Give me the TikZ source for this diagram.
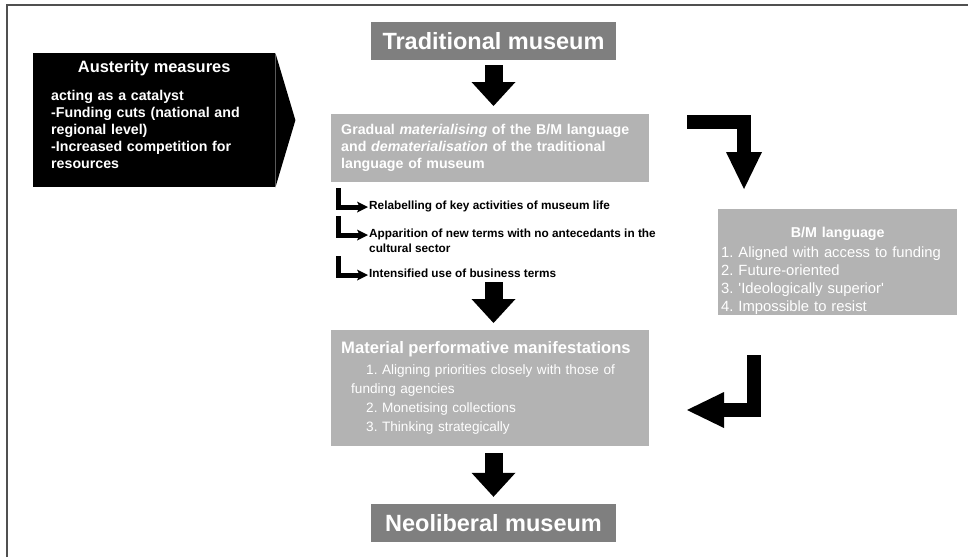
\documentclass[tikz,border=0pt]{standalone}
\usepackage{fontspec}
\setmainfont{Liberation Sans}[Ligatures=TeXOff]
\usetikzlibrary{arrows.meta, positioning, calc}
\definecolor{museumgray}{HTML}{7F7F7F}
\definecolor{panelgray}{HTML}{B3B3B3}
\definecolor{framegray}{HTML}{505050}
\tikzset{
museum/.style={fill=museumgray, text=white, font=\fontsize{23.5}{28}\selectfont\bfseries, minimum width=245pt, minimum height=38pt, inner sep=0pt}, % the two museum boxes
panel/.style={fill=panelgray, text=white, align=left, anchor=north west, inner xsep=10pt, inner ysep=0pt}, % the light grey boxes
subitem/.style={font=\fontsize{11.8}{15}\selectfont\bfseries, align=left, anchor=north west, inner sep=0pt}, % the small black lines of text
downarrow/.style={line width=18pt, -{Triangle[length=24pt, width=44pt, line width=0pt]}}, % big arrows down the middle
bentarrow/.style={line width=14pt, line join=miter, -{Triangle[length=37pt, width=36pt, line width=0pt]}}, % the two bent arrows
larrow/.style={line width=5pt, line join=miter, -{Stealth[length=11pt, width=11pt, inset=2.5pt, line width=0pt]}}, % small L-shaped arrows
}
\frenchspacing

\begin{document}
\begin{tikzpicture}[x=1pt, y=-1pt]
\useasboundingbox (0,0) rectangle (968,557);
\draw[framegray, line width=2.5pt] (7,557) -- (7,5) -- (968,5);

\node[anchor=north west, fill=black, text=white, text width=206pt, inner xsep=18pt, inner ysep=0pt, minimum height=134pt, align=left, font=\fontsize{14.2}{17}\selectfont\bfseries] (aus) at (33,53) {\makebox[\linewidth]{\fontsize{16.4}{17}\selectfont Austerity measures}\\[11pt]acting as a catalyst\\-Funding cuts (national and\\regional level)\\-Increased competition for\\resources\rule[-12pt]{0pt}{12pt}};
\fill (aus.north east) -- ($(aus.east)+(20,0)$) -- (aus.south east) -- cycle;

\node[museum] (trad) at (493.5,41) {Traditional museum};
\node[panel, text width=298pt, minimum height=68pt, font=\fontsize{14.2}{17}\selectfont\bfseries] (gradual) at (331,114) {Gradual \textit{materialising} of the B/M language\\and \textit{dematerialisation} of the traditional\\language of museum\rule[-3pt]{0pt}{3pt}};

\node[subitem] (t1) at (369,201) {Relabelling of key activities of museum life};
\node[subitem] (t2) at (369,229) {Apparition of new terms with no antecedants in the\\cultural sector};
\node[subitem] (t3) at (369,269) {Intensified use of business terms};
\draw[larrow] ($(t1.north west)+(-31,-13)$) |- ($(t1.north west)+(-1,6)$);
\draw[larrow] ($(t2.north west)+(-31,-13)$) |- ($(t2.north west)+(-1,6)$);
\draw[larrow] ($(t3.north west)+(-31,-13)$) |- ($(t3.north west)+(-1,6)$);

\node[panel, text width=298pt, minimum height=116pt, font=\fontsize{13.6}{19}\selectfont] (material) at (331,330) {{\fontsize{16.6}{19}\selectfont\bfseries Material performative manifestations}\\[2pt]\hspace*{25pt}1. Aligning priorities closely with those of\\\hspace*{10pt}funding agencies\\\hspace*{25pt}2. Monetising collections\\\hspace*{25pt}3. Thinking strategically};
\node[museum] (neo) at (493.5,523) {Neoliberal museum};

\node[panel, text width=233pt, inner xsep=3pt, minimum height=106pt, font=\fontsize{14.8}{18}\selectfont] (bm) at (718,209) {\rule{0pt}{28pt}\makebox[\linewidth]{\fontsize{14.3}{18}\selectfont\bfseries B/M language}\\[2pt]1. Aligned with access to funding\\2. Future-oriented\\3. 'Ideologically superior'\\4. Impossible to resist};

\coordinate (gradexit) at (687,121.5);
\coordinate (bmentry) at (744,189);
\coordinate (bmexit) at (754,355);
\coordinate (matentry) at (687,410);
\draw[bentarrow] (gradexit) -| (bmentry);
\draw[bentarrow] (bmexit) |- (matentry);

\draw[downarrow, shorten <=5pt, shorten >=8pt] (trad.south) -- (trad.south |- gradual.north);
\draw[downarrow, shorten <=4pt, shorten >=7pt] (trad.south |- t3.south) -- (trad.south |- material.north);
\draw[downarrow, shorten <=7pt, shorten >=7pt] (material.south -| trad.south) -- (neo.north);
\end{tikzpicture}
\end{document}
